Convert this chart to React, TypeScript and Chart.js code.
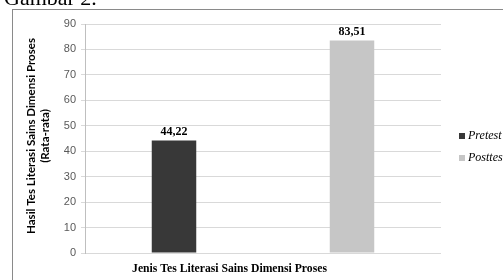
import React, { useEffect, useRef } from "react";
import { Chart, registerables } from "chart.js";

Chart.register(...registerables);

const categories = [""];
const seriesNames = ["Pretest", "Posttest"];
const pretestValues = [44.22];
const posttestValues = [83.51];
const valueLabels = ["44,22", "83,51"];
const yTickMin = 0;
const yTickMax = 90;
const yTickStep = 10;
const yTitleLines = ["Hasil Tes Literasi Sains Dimensi Proses", "(Rata-rata)"];
const xTitle = "Jenis Tes Literasi Sains Dimensi Proses";
const figureCaption = "Gambar 2.";

const colors = ["#383838", "#c6c6c6"];

function fitFont(ctx: CanvasRenderingContext2D, text: string, style: string, family: string, base: number, target: number) {
  ctx.font = `${style} ${base}px ${family}`;
  const w = ctx.measureText(text).width;
  const size = (base * target) / w;
  return `${style} ${size.toFixed(2)}px ${family}`;
}

const decorPlugin = {
  id: "decor",
  beforeDraw(chart: any) {
    const ctx = chart.ctx as CanvasRenderingContext2D;
    ctx.save();
    ctx.fillStyle = "#ffffff";
    ctx.fillRect(0, 0, chart.width, chart.height);
    ctx.strokeStyle = "#8a8a8a";
    ctx.lineWidth = 1;
    ctx.strokeRect(12.5, 9.5, 700, 400);
    ctx.fillStyle = "#000000";
    ctx.font = "22px 'Liberation Serif'";
    ctx.textBaseline = "alphabetic";
    ctx.textAlign = "left";
    ctx.fillText(figureCaption, 4, 5);
    ctx.restore();
  },
  afterDraw(chart: any) {
    const ctx = chart.ctx as CanvasRenderingContext2D;
    ctx.save();
    // data labels
    ctx.fillStyle = "#000000";
    ctx.textAlign = "center";
    ctx.textBaseline = "middle";
    ctx.font = "bold 12px 'Liberation Serif'";
    chart.data.datasets.forEach((ds: any, i: number) => {
      const meta = chart.getDatasetMeta(i);
      meta.data.forEach((el: any) => {
        ctx.fillText(valueLabels[i], el.x, el.y - 8.5);
      });
    });
    // y title
    ctx.save();
    ctx.translate(31, 136);
    ctx.rotate(-Math.PI / 2);
    ctx.font = fitFont(ctx, yTitleLines[0], "bold", "Lato", 10, 196);
    ctx.fillText(yTitleLines[0], 0, 0);
    ctx.fillText(yTitleLines[1], 0, 14);
    ctx.restore();
    // x title
    ctx.font = fitFont(ctx, xTitle, "bold", "'Liberation Serif'", 12, 195);
    ctx.fillText(xTitle, 229.5, 269);
    // legend
    ctx.textAlign = "left";
    ctx.font = "italic 12px 'Liberation Serif'";
    const ly = [136, 158];
    seriesNames.forEach((name, i) => {
      ctx.fillStyle = colors[i];
      ctx.fillRect(459, ly[i] - 3, 6, 6);
      ctx.fillStyle = "#000000";
      ctx.fillText(name, 468, ly[i]);
    });
    ctx.restore();
  },
};

export default function App() {
  const ref = useRef<HTMLCanvasElement | null>(null);
  useEffect(() => {
    if (!ref.current) return;
    const chart = new Chart(ref.current, {
      type: "bar",
      data: {
        labels: categories,
        datasets: [
          { label: seriesNames[0], data: pretestValues, backgroundColor: colors[0], categoryPercentage: 1, barPercentage: 0.25 },
          { label: seriesNames[1], data: posttestValues, backgroundColor: colors[1], categoryPercentage: 1, barPercentage: 0.25 },
        ],
      },
      options: {
        responsive: false,
        animation: false,
        devicePixelRatio: 1,
        layout: { padding: { left: 0, top: 24, right: 62, bottom: 0 } },
        plugins: { legend: { display: false }, tooltip: { enabled: false } },
        scales: {
          x: {
            grid: { display: false },
            border: { display: false },
            ticks: { display: false },
            afterFit(scale: any) {
              scale.height = 27;
            },
          },
          y: {
            min: yTickMin,
            max: yTickMax,
            ticks: {
              stepSize: yTickStep,
              color: "#595959",
              font: { family: "'Liberation Sans'", size: 11 },
              padding: 5,
            },
            grid: { color: "#d9d9d9", tickLength: 4 },
            border: { color: "#bfbfbf" },
            afterFit(scale: any) {
              scale.width = 85;
            },
          },
        },
      },
      plugins: [decorPlugin],
    });
    return () => chart.destroy();
  }, []);
  return (
    <canvas
      ref={ref}
      width={503}
      height={280}
      style={{ position: "fixed", left: 0, top: 0, width: 503, height: 280 }}
    />
  );
}
